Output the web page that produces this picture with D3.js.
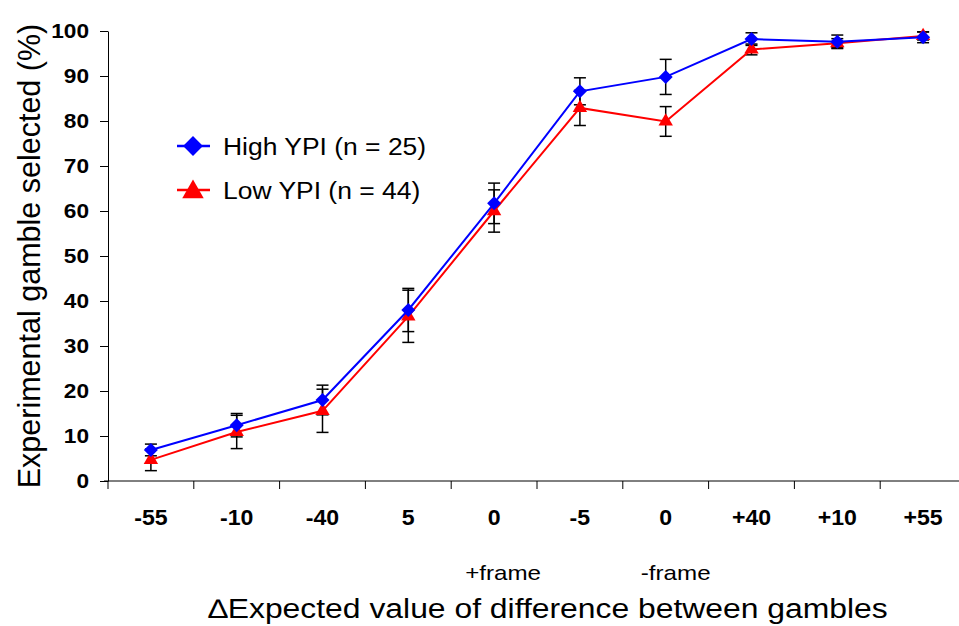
<!DOCTYPE html>
<html>
<head>
<meta charset="utf-8">
<script src="https://cdn.jsdelivr.net/npm/d3@7"></script>
<style>
  body { margin: 0; background: #fff; }
  text { font-family: "Liberation Sans", Arial, sans-serif; }
  .axis path, .axis line { stroke: #000; stroke-width: 1; }
  .axis text { font-weight: bold; font-size: 21px; fill: #000; }
  .x-axis text { font-size: 22px; }
</style>
</head>
<body>
<div id="chart"></div>
<script>
// Categories along x (delta expected value)
var categories = ["-55", "-10", "-40", "5", "0a", "-5", "0b", "+40", "+10", "+55"];
var categoryLabels = ["-55", "-10", "-40", "5", "0", "-5", "0", "+40", "+10", "+55"];

// High YPI (n = 25)
var highValues = [6.9, 12.4, 18.0, 38.0, 61.7, 86.6, 89.8, 98.2, 97.6, 98.6];
var highErrors = [1.3, 2.6, 3.3, 4.8, 4.5, 3.0, 3.9, 1.4, 1.5, 1.2];

// Low YPI (n = 44)
var lowValues = [4.7, 10.9, 15.6, 36.6, 60.0, 82.9, 79.9, 95.9, 97.3, 98.9];
var lowErrors = [2.4, 3.7, 4.8, 5.8, 4.7, 3.9, 3.3, 1.2, 1.0, 0.9];

var yTicks = [0, 10, 20, 30, 40, 50, 60, 70, 80, 90, 100];

var margin = {top: 31, right: -7, bottom: 145, left: 108},
    width = 959 - margin.left - margin.right,
    height = 626 - margin.top - margin.bottom;

var svg = d3.select("#chart").append("svg")
    .attr("width", 959)
    .attr("height", 626)
    .append("g")
    .attr("transform", "translate(" + margin.left + "," + margin.top + ")");

// the original lettering is a little wider than Liberation Sans
function stretch(sel, k) {
    sel.each(function() {
        var w = this.getComputedTextLength();
        d3.select(this).attr("textLength", w * k).attr("lengthAdjust", "spacingAndGlyphs");
    });
}

var x = d3.scaleBand()
    .domain(categories)
    .range([0, 858]);

var y = d3.scaleLinear()
    .domain([0, 100])
    .range([height, 0]);

// y axis
var yAxis = d3.axisLeft(y)
    .tickValues(yTicks)
    .tickSize(8)
    .tickSizeOuter(0)
    .tickPadding(11);

var yAxisGroup = svg.append("g")
    .attr("class", "y-axis axis")
    .call(yAxis);
stretch(yAxisGroup.selectAll("text"), 1.08);

// x axis: ticks sit at band boundaries, labels at band centres
var xAxisGroup = svg.append("g")
    .attr("class", "x-axis axis")
    .attr("transform", "translate(0," + height + ")");

xAxisGroup.append("line")
    .attr("x1", -4)
    .attr("x2", x.range()[1])
    .attr("stroke", "#000");

var bounds = categories.map(function(c) { return x(c); }).concat([x.range()[1]]);
xAxisGroup.selectAll(".tick-line")
    .data(bounds)
    .enter()
    .append("line")
    .attr("class", "tick-line")
    .attr("x1", function(d) { return d; })
    .attr("x2", function(d) { return d; })
    .attr("y1", 0)
    .attr("y2", 8)
    .attr("stroke", "#000");

var xLabels = xAxisGroup.selectAll(".tick-label")
    .data(categories)
    .enter()
    .append("text")
    .attr("class", "tick-label")
    .attr("x", function(d) { return x(d) + x.bandwidth() / 2; })
    .attr("y", 44)
    .attr("text-anchor", "middle")
    .text(function(d, i) { return categoryLabels[i]; });
stretch(xLabels, 1.05);

// frame notes under the two zero categories
var notes = svg.append("g");
notes.append("text")
    .attr("x", x("0a") + x.bandwidth() / 2 + 9)
    .attr("y", height + 99)
    .attr("text-anchor", "middle")
    .attr("font-size", 21)
    .text("+frame");

notes.append("text")
    .attr("x", x("0b") + x.bandwidth() / 2 + 10)
    .attr("y", height + 99)
    .attr("text-anchor", "middle")
    .attr("font-size", 21)
    .text("-frame");
stretch(notes.selectAll("text"), 1.15);

// axis titles
var xTitle = svg.append("text")
    .attr("x", 440)
    .attr("y", height + 137)
    .attr("text-anchor", "middle")
    .attr("font-size", 27)
    .text("\u2206Expected value of difference between gambles");
stretch(xTitle, 1.18);

svg.append("text")
    .attr("transform", "translate(-68," + (height / 2) + ") rotate(-90)")
    .attr("text-anchor", "middle")
    .attr("font-size", 30.5)
    .text("Experimental gamble selected (%)");

var series = [
    {name: "High YPI (n = 25)", values: highValues, errors: highErrors, color: "#0000ff", shape: d3.symbolDiamond2, size: 125, legendSize: 250},
    {name: "Low YPI (n = 44)", values: lowValues, errors: lowErrors, color: "#ff0000", shape: d3.symbolTriangle, size: 90, legendSize: 200}
];

var cx = function(i) { return x(categories[i]) + x.bandwidth() / 2; };

// error bars first (drawn beneath the lines)
series.forEach(function(s) {
    var g = svg.append("g");
    s.values.forEach(function(v, i) {
        var top = y(v + s.errors[i]), bot = y(v - s.errors[i]);
        g.append("line").attr("x1", cx(i)).attr("x2", cx(i)).attr("y1", top).attr("y2", bot)
            .attr("stroke", "#000").attr("stroke-width", 1.5);
        [top, bot].forEach(function(yy) {
            g.append("line").attr("x1", cx(i) - 6).attr("x2", cx(i) + 6).attr("y1", yy).attr("y2", yy)
                .attr("stroke", "#000").attr("stroke-width", 1.5);
        });
    });
});

var line = d3.line()
    .x(function(d, i) { return cx(i); })
    .y(function(d) { return y(d); });

// draw low first so blue sits on top
series.slice().reverse().forEach(function(s) {
    svg.append("path")
        .datum(s.values)
        .attr("fill", "none")
        .attr("stroke", s.color)
        .attr("stroke-width", 2)
        .attr("d", line);

    svg.selectAll(null)
        .data(s.values)
        .enter()
        .append("path")
        .attr("transform", function(d, i) { return "translate(" + cx(i) + "," + y(d) + ")"; })
        .attr("d", d3.symbol().type(s.shape).size(s.size))
        .attr("fill", s.color);
});

// legend
var legend = svg.append("g").attr("transform", "translate(69,115)");
series.forEach(function(s, i) {
    var row = legend.append("g").attr("transform", "translate(0," + (i * 44) + ")");
    row.append("line").attr("x1", 0).attr("x2", 33).attr("stroke", s.color).attr("stroke-width", 2.5);
    row.append("path")
        .attr("transform", "translate(16," + (i ? 2 : 0) + ")")
        .attr("d", d3.symbol().type(s.shape).size(s.legendSize))
        .attr("fill", s.color);
    var t = row.append("text")
        .attr("x", 46)
        .attr("y", 9)
        .attr("font-size", 23)
        .text(s.name);
    stretch(t, 1.15);
});
</script>
</body>
</html>
